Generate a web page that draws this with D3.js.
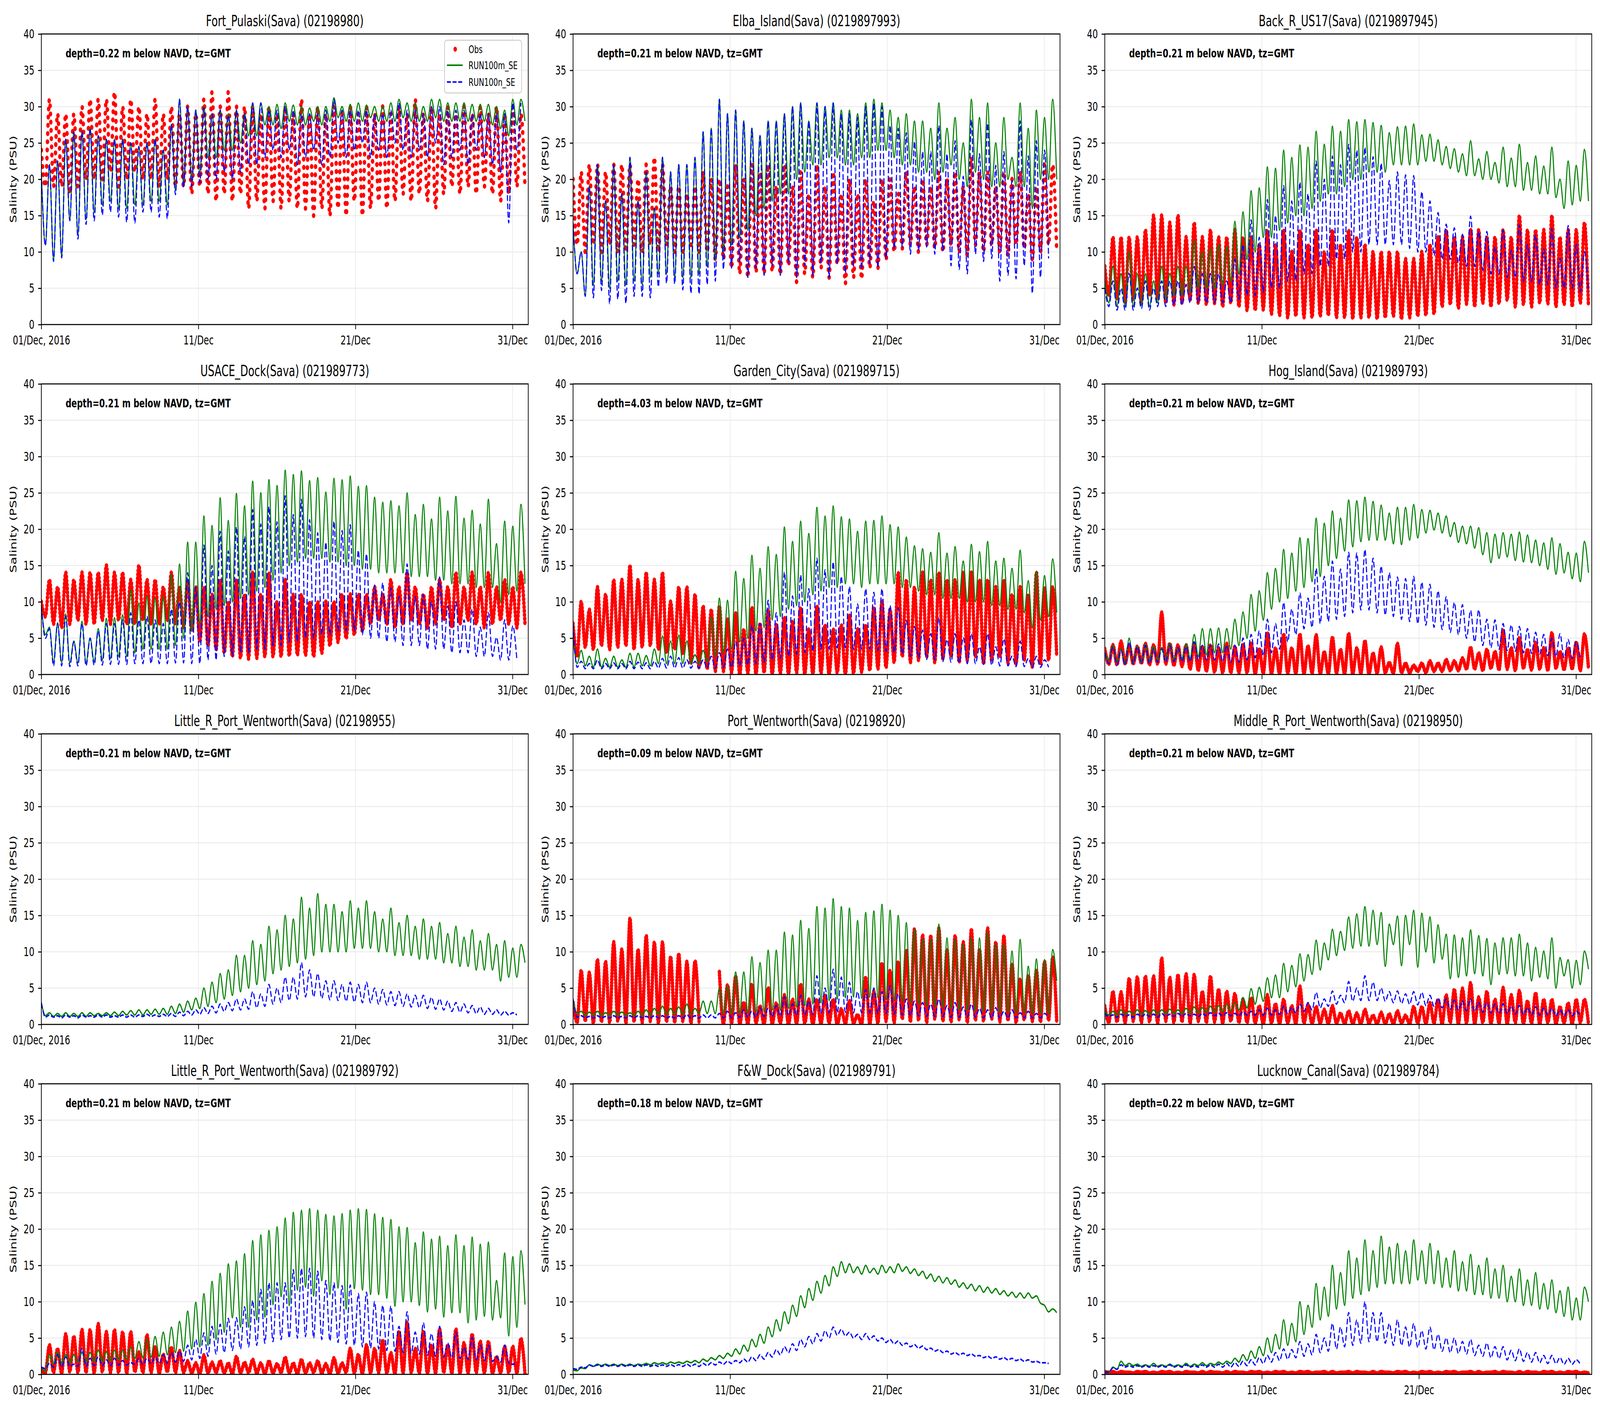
<!DOCTYPE html>
<html>
<head>
<meta charset="utf-8">
<script src="https://cdn.jsdelivr.net/npm/d3@7"></script>
<style>
  html, body { margin: 0; padding: 0; background: #fff; overflow: hidden; }
  svg { display: block; width: 100vw; height: 100vh; }
</style>
</head>
<body>
<svg id="fig"></svg>
<script>
// Salinity at the Savannah stations, Dec 2016.
// Every series holds the tidal highs and lows,
// alternating high, low, high, low ... one value every 6.21 h from 01 Dec 00:00 GMT.

const fortPulaskiObs = [24,19, 31,19, 29,19, 29,18, 29,19, 30,20, 31,20, 31,20, 31,21, 32,19,
  30,20, 31,21, 30,20, 29,20, 31,19, 29,20, 30,19, 29,19, 30,18, 29,19,
  31,18, 32,17, 30,18, 32,17, 30,18, 30,16, 30,17, 29,16, 30,17, 29,16,
  30,17, 29,16, 31,16, 29,15, 30,16, 29,15, 30,16, 29,15, 30,17, 29,15,
  30,16, 29,17, 30,16, 29,17, 30,18, 29,17, 31,18, 29,17, 30,16, 29,18,
  30,19, 29,18, 30,19, 29,18, 30,19, 29,18, 30,17, 29,18, 30,19, 29,19];
const fortPulaskiM = [21,11, 22,9, 22.5,9.5, 25.5,14.5, 26.5,12.5, 26.5,14.5, 27,15.5, 26,16.5, 25.5,17, 25.5,16,
  25.5,16, 25,16.5, 24.5,16.5, 25,17, 25.5,17, 24,16.5, 27.5,18.5, 31,19.5, 30,20, 29.5,21,
  30,23, 29,23, 29.5,24, 29,24, 29.5,25, 29,26, 30.5,26, 30.5,27.5, 30,27.5, 30.3,27,
  30.5,28, 30.2,27.5, 30,27.5, 29.8,28, 30,27.5, 30,28, 31.2,28.5, 30,28, 30.3,28, 30.5,28,
  30.2,28.5, 30,28, 30,28, 30.5,28, 31,28.5, 30.5,28, 30.5,28, 30,28, 31,28.5, 31,28,
  30.5,28, 30.5,28, 30.5,28, 30.3,28, 30.3,28, 30.3,27.5, 30,27, 29.5,26, 31,27.5, 31,28];
const fortPulaskiN = [21,10.9, 22,8.7, 22.5,9.2, 25.5,14.3, 26.5,11.8, 26.5,13.8, 27,14.3, 26,15.1, 25.5,15.5, 25.5,14.8,
  25.5,14.1, 25,14, 24.5,15.5, 25,15.5, 25.5,14.8, 24,14.6, 27.5,17.9, 31,18.8, 30,19, 29.5,19.5,
  29.8,20, 29,20, 29.5,21, 28.8,20, 29.5,21, 29,22, 30.5,22, 30.5,23, 29.5,24, 29.5,23,
  30,24, 29.5,22, 29,23, 29,24, 29,22, 29.5,23, 31,25, 29.5,23, 29.5,24, 29.5,25,
  29.5,23, 29,24, 29,23, 29.5,25, 30.5,24, 29.5,23, 29.5,24, 29,23, 30,25, 30,22,
  29.5,23, 29.5,24, 29.5,22, 29,24, 29,23, 29,22, 29,21, 29,14, 30.5,24, 30.5];

const elbaObs = [20,11, 21,10, 22,11, 22,10, 21,11, 22,10, 22,10, 22,11, 20,10, 22,11,
  23,10, 22,11, 19,10, 19,10, 18,11, 19,10, 21,10, 20,9, 20,9, 19,7.8,
  22,7, 20,6.5, 22,7.2, 21,7, 22,7.3, 19,6.9, 22,8.1, 19,5.9, 21,7, 18,6.5,
  22,7.8, 19,6.5, 21,8.3, 18,5.7, 20,6.5, 18,6.3, 20,7.8, 17,7.8, 20,8.9,
  20,10, 18,10.5, 21,11, 19,10, 20,11, 19,10.5, 21,10, 20,11, 21,10, 19,9.5,
  23,11, 21,10, 21,11, 19,10, 21,9.5, 20,11, 21,10.5, 18,9, 19,10, 22,11, 22,10];
const elbaM = [14,7, 10,4, 19,5.5, 22,6, 17,5, 22,6, 18,5.5, 23,6, 17,5.5, 21,6.5,
  16,7, 23,7, 21,6.5, 22,6.5, 22,6.5, 23,7, 26.5,8, 27,9, 31,10, 29,11,
  29.5,12, 28,13, 27,15, 26,16, 28,17, 28,18, 29,18, 30,20, 30.5,21, 28,22,
  30.5,22, 30,23, 30.5,23, 29.5,22, 29.5,22, 29,23, 30.5,23, 31,24, 30.5,24, 29.5,23,
  28.5,22, 29,22, 28,21, 28,21, 27,20, 30.5,21, 27,22, 28.5,20, 25,19, 31,21,
  28.5,20, 30.5,19, 25,19, 28.5,20, 23,19, 30.5,19, 27,16, 29.5,20, 28.5,20, 31,20];
const elbaN = [14,7, 10,3.9, 19,3.7, 22,4.7, 17,2.9, 22,3.5, 18,2.9, 23,3.9, 17,3.9, 21,3.7,
  16,5.2, 23,5.7, 21,5.6, 22,4.8, 22,4.3, 23,4.2, 26.5,5.5, 27,6, 31,7.6, 29,7.8,
  29.5,8.6, 28,6.5, 27,7.8, 26,6.8, 28,8.1, 28,6.8, 29,8.5, 30,6.5, 30.5,8.1, 28,6.8,
  30.5,8.5, 30,6.5, 30.5,8.4, 29,7.1, 29,8.1, 28.5,7.6, 30,8.4, 30.5,7.8, 30,9.1, 27.4,10.4,
  27,10.7, 26.4,9.7, 25.2,10.2, 23.8,10.7, 23.8,9.7, 27.4,10.2, 23.5,8.1, 25.3,7.6, 20.4,7, 28.2,9.7,
  23.5,8.7, 27.7,9.1, 21.9,6, 23.8,6.8, 19.8,6.3, 28,8.1, 23.2,4.3, 25.3,6.5, 24,9.1];

const backRObs = [8,4, 12,3.5, 12,3, 12,3.5, 12,3, 13,4, 15,3.5, 15,3, 14,2.8, 15,3,
  12,3.5, 14,3, 12,2.8, 13,3, 12,2.5, 12,3, 13,2.5, 12,2, 12,2,
  11,2.1, 13,1.5, 11,1.3, 13,1, 10,1.2, 13,1, 11,1, 13,1.2, 10,1.3, 13,1, 11,1,
  13,0.8, 12,1, 11,1, 10,0.8, 10,1, 10,1.2, 10,0.8, 9,1, 9,1.2, 10,1.3, 11,1.5,
  12,2.5, 13,2.8, 12,2.3, 12,2.9, 13,2.5, 13,3, 12,2.5, 12,2.9, 13,3.4, 12,2.5,
  15,2.8, 13,2.5, 13,3, 13,2.9, 15,2.5, 12,2.8, 13,2.5, 13,3, 14,2.5];
const backRM = [6,3, 8,2.5, 7,2.5, 10,2.5, 7,2.7, 7,2.5, 6,3, 8,3.5, 7,4, 8,4,
  8,4.5, 11.5,5, 10,5, 10.4,5, 11,5.5, 10.7,6,
  14.2,7, 15.5,9, 18.4,10, 18.8,12,
  21.7,12, 21.5,13, 24,14, 23,15, 24.7,15, 24.4,16,
  26.6,17, 24.8,18, 27.3,18, 26.6,19,
  28.2,20, 27.9,20, 28.2,21, 27.8,21, 27.4,21, 26.4,22, 27.2,22, 27.3,22, 27.6,22,
  26.1,22.5, 26.2,22.5, 25.4,22, 24.5,21.5, 24.2,21, 23.5,20.5, 25.3,20.5,
  22.8,20, 23.8,20, 22.3,19.5, 24.4,19, 22.9,19, 24.8,18.5, 22.3,18.5,
  23.2,18, 21.8,18, 24.4,17.5, 20,16, 22.5,16.5, 21.9,17, 24.1,17];
const backRN = [5,2.5, 6,2, 5,2, 7,2, 5,2.2, 6,2, 5,2.5, 6,2.5, 6,2.7, 6,2.7,
  5.5,3, 8,3, 7,3, 7,3, 7,3, 6,3,
  9,3.5, 11,4, 14.4,4, 12,4.5,
  17.2,5, 15,5, 19.1,6, 17,6, 19.6,7, 18,7,
  22.5,8, 20,8, 23.2,9, 22,9, 24.8,10, 24,10, 24.4,11, 23.1,11,
  22.2,11, 19.8,11, 21,11, 20.6,10.5, 20.5,10, 18.3,10, 17,9.5,
  15.4,9, 13.8,9, 13.3,8.5, 12.4,8, 14.9,8, 12.8,7.5, 12.8,7, 10.7,7,
  13,6.5, 10.2,6.5, 13.7,6, 11,6, 12.3,5.5, 10.4,5.5, 13.2,5, 9.1,5, 13.6,5, 11,4.5, 10,4.5];

const usaceObs = [10,8, 13,7, 12,6.5, 14,7, 13,7.5, 14,7, 14,7, 14,7.5, 15,7, 14,7.5,
  14,7, 13,7, 15,7.5, 13,7, 13,7, 12,7.5, 14,7, 12,6.5, 13,6,
  12,4.6, 12,4, 11,3.5, 13,3, 10,2.5, 13,2.3, 11,2.2, 14,2.3, 11,2.5, 14,2.5, 10,2.5,
  13,2.6, 11,2.7, 11,2.7, 10,2.5, 10,3, 10,4, 10,4.5, 11,5, 11,5.5, 11,6,
  11,7, 12,7.5, 11,7, 13,6.5, 12,7, 14,7.5, 12,7, 11,6.5, 12,7, 13,7.5,
  12,6.5, 14,7, 12,7.5, 14,7, 12,6.5, 14,7, 12,7.5, 13,7, 12,6.5, 14,7];
const usaceM = [9.5,5.5, 6.5,1.7, 7.1,1.7, 8.3,1.6, 4.6,1.6, 7.3,1.6, 5,1.8, 6.3,2, 7.7,2.2, 7.8,2.5,
  8.2,2.5, 11.6,3, 9.8,3.5, 10.7,3.5, 10.5,3.5, 10.7,3.5, 13.8,4, 15.2,5, 18.2,6, 18.2,7,
  21.8,8, 20.5,9, 24.3,9.5, 21.2,10, 24.9,10.5, 23.2,11, 26.6,11.5, 25,12, 26.8,13, 26,14,
  28.1,15, 27.5,15.5, 28,16, 26.7,16, 27.1,16, 25.1,15.5, 27,15.5, 26.8,15, 27.3,15,
  25.9,14.5, 26,14.5, 24.4,14, 23.7,14, 23.9,14, 23.2,14, 25,13.5, 22,13.5, 23.4,13.5, 21.4,13, 24.4,13,
  22.5,12.5, 24.5,12.5, 21.5,12.5, 22.6,12, 20.7,12, 24.1,12, 18,10, 21.1,11, 20.4,11.5, 23.4,12.5];
const usaceN = [9.5,5, 6.3,1.2, 7,1.2, 8,1.1, 4.5,1.2, 7,1.2, 5,1.3, 6,1.3, 7,1.4, 7,1.4,
  7.5,1.4, 8.5,1.5, 7.5,1.5, 8,1.5, 7.5,1.5, 7,1.5, 9,1.6, 10,1.6,
  14,1.5, 12,1.5, 17.8,2, 15,2, 19.7,2.5, 17,2.5, 20.3,3, 19,3, 22.7,3.5, 20.7,3.5, 23.1,4, 21,4,
  24.6,4.5, 22,4.5, 24.1,5, 21.3,5, 19.5,5.5, 18.2,5.5, 21.1,6, 19.8,6, 20.6,6, 17.1,5.5, 16.6,5,
  12.3,5, 12.6,4.5, 11.9,4.5, 10.7,4, 15.2,4, 10.7,4, 11,3.5, 10,3.5, 13.4,3.5,
  9.4,3, 10,3, 7.5,3, 9,2.5, 6.5,2.5, 8.5,2.5, 5.1,2, 7.5,2, 6.7,2];

const gardenObs = [7,2.5, 10,3.8, 8.9,3.5, 12,4, 11,3.5, 13,3.8, 13,4, 15,3.5, 13,3.8, 14,4,
  13,3.5, 14,3, 10,3.5, 12,3, 12,1.5, 11,1, 9.4,0.8, 8.9,0.5, 9.4,0.5,
  7.6,0.3, 8.4,0, 6.2,0.2, 9.2,0, 7,0.3, 8.9,0, 6.8,0.2, 7.8,0, 7.3,0.3, 9.2,0.1,
  6.2,0, 9.4,0.2, 6.8,0, 6.2,0.3, 6.8,0, 8.1,0.2, 6.2,0.4, 6.8,0.6, 9.2,0.8, 10,1,
  8.9,1.7, 14,2.5, 13,1.7, 12,2, 14,2.5, 13,1.7, 14,2.2, 13,2.5, 13,1.7, 14,2, 14,2.5,
  13,1.5, 13,2, 12,2.5, 13,1.7, 11,1.5, 12,2, 11,1.1, 14,1.5, 12,2, 12,2.5];
const gardenM = [5,1.5, 3.3,1.2, 2.5,1, 3.5,1, 2.2,1, 2.5,1, 2,1, 2.9,1, 2.9,1.2, 2.6,1.2,
  3.5,1.5, 5.3,1.5, 4.6,1.5, 5.4,1.5, 4.6,1.5, 2.7,1.5, 3.3,1.8, 7.8,2.5, 10.5,3, 10.2,3.5,
  14.2,4.5, 13.2,5, 16.4,6, 14.6,6.5, 17.6,7.5, 16.5,8, 20.3,9, 18.3,9.5, 21.1,10, 19.4,11,
  23,11.5, 21.8,12, 23.2,12, 21.7,12.5, 21.4,12.5, 19.7,12, 21.1,12.5, 21.2,12.5, 21.8,12.5,
  20.6,12.5, 20.3,12, 18.9,12, 17.7,11.5, 17.3,11, 16.8,11, 19.5,10.5, 16.7,10.5, 17.6,10.5,
  15.6,10, 17.9,10, 16.9,10, 18.3,9.5, 15.6,9.5, 16,9, 14.6,9, 17.1,8.5, 12.9,6.5, 14.2,7.5, 13.6,8, 15.9,8.5];
const gardenN = [7,1, 1.8,0.8, 1.5,0.8, 2,0.8, 1.5,0.8, 1.6,0.8, 1.5,0.8, 1.8,0.8, 1.7,0.8, 1.6,0.8,
  1.8,0.9, 2.2,0.9, 2.5,0.9, 2.3,0.9, 2,0.9, 1.8,0.9, 2,0.9, 2.5,0.9,
  3,1, 3.5,1, 4.5,1.2, 5,1.3, 6.8,1.5, 7,1.7, 10.2,2, 8.5,2.2, 14.1,2.5, 10.8,2.8,
  13.7,3, 11.8,3.2, 16,3.5, 14.4,3.5, 15.5,3.7, 13.5,3.7, 12.1,3.5, 9.7,3.5, 11.8,3.5, 11.3,3.3,
  11.8,3.2, 9.5,3, 9.2,2.8, 7.4,2.5, 6.6,2.3, 6.1,2.1, 5.6,2, 7.8,1.8, 4.8,1.7, 5.6,1.6,
  5.1,1.5, 5.6,1.5, 3.8,1.4, 5.6,1.3, 3.8,1.2, 4.9,1.2, 2.5,1.1, 4.6,1.1, 2.2,1, 2.5,1, 2,1];

const hogObs = [3.5,1.5, 4,1.4, 4.5,1.5, 4,1.5, 3.8,1.6, 4.2,1.4, 4,1.5, 8.5,1.5, 4.2,1.3, 4,1.2,
  4,0.8, 4.3,0.6, 3.8,0.5, 4,0.4, 3.6,0.3, 4.2,0.3, 3.8,0.3, 4,0.3,
  4.2,0.1, 3.5,0.2, 5.7,0.1, 3.6,0.1, 5.5,0.2, 3.6,0.1, 5.5,0.1, 3.9,0.2, 5.4,0.1, 3.1,0.1,
  5.1,0.2, 3.4,0.1, 5.6,0.1, 3.6,0.2, 4.6,0.1, 2.9,0.2, 3.7,0.3, 1.6,0.2, 4.2,0.3,
  1.5,0.3, 1.2,0.5, 1.5,0.3, 1.8,0.5, 1.5,0.5, 2,0.6, 1.8,0.6, 2.2,0.8,
  3.7,0.8, 2.9,0.6, 3.4,0.9, 3.1,0.7, 6,0.8, 3.6,0.6, 5,0.9, 3.4,0.7, 4.4,0.8, 3.6,0.6,
  5.7,0.9, 3.1,0.7, 3.6,0.8, 4.4,0.6, 5.5,0.9];
const hogM = [3,2, 4,1.8, 3.5,1.6, 5,1.6, 3.9,1.8, 4.2,1.8, 3.9,2, 3.7,2, 4.3,2, 3.7,2.2,
  4.2,2.2, 5.5,2.5, 6.3,2.7, 6.3,3, 6.4,3, 6.3,3.5, 7.6,4, 8.6,5, 11,6, 11.5,7.5,
  14,9, 14.6,10, 17.2,10.5, 16.7,11.5, 18.8,12, 18.7,12.8, 21.5,13.5, 20.8,15, 22.5,16, 21.5,17,
  24,17.6, 23.9,18.3, 24.4,18.5, 23.8,18.5, 23.3,18.5, 22.2,18, 23,17.9, 23,18.5, 23.4,18.8,
  22.7,19.5, 22.6,19.9, 22.2,19.5, 21.8,19, 20.9,18.2, 20.4,18, 20.4,17.4, 20.2,16.5, 19.5,15.4,
  19.3,16, 19.5,16.2, 19.3,15.7, 19.6,15.5, 19.2,15.4, 18.5,15, 18.1,14.5, 18.8,13.8, 18,14, 16.8,13.2, 16.7,12.8, 18.3,14];
const hogN = [3,1.5, 3.8,1.3, 3.3,1.3, 4.5,1.5, 3.8,1.5, 4,1.5, 3.5,1.7, 3.5,1.7, 4,1.8, 3.7,1.8,
  3.8,1.8, 4.5,2, 4,2, 4,2, 4.2,1.8, 4,1.7, 4,1.7,
  5,2, 5.5,2.3, 6,2.6, 7.6,3, 7,3.5, 9.9,4.5, 9,5.5, 11.2,6.3, 10.5,6.5, 14.6,7,
  13.5,7.3, 15.6,7.6, 14.5,8, 16.8,8.5, 16.7,8.9, 17.2,8.9, 16,8.5, 14.9,8.2, 14,8, 13.4,7.6,
  13.2,7.3, 13.5,7, 12.7,6.8, 12.4,6.5, 11.5,6.2, 10.7,5.8, 9.9,5.5, 9.6,5, 8.8,4.5, 8.9,4,
  7.6,3.7, 7.5,3.5, 7,3.3, 6.8,3.2, 6.6,3, 6.3,2.9, 5.8,2.8, 5.5,2.6, 5,2.5, 5.6,2.3, 4.8,2.2, 4.5,2.1];

const littleR55M = [3,1.2, 1.6,1.1, 1.5,1.1, 1.6,1.1, 1.5,1.1, 1.6,1.1, 1.6,1.2, 1.5,1.2, 1.6,1.2, 1.7,1.2,
  1.8,1.3, 1.9,1.3, 2,1.3, 2,1.4, 2.1,1.4, 2.2,1.4,
  2.5,1.5, 2.8,1.7, 3.2,2, 3.6,2.2,
  5,2.5, 5.8,3, 7,3.5, 7.5,4,
  9.5,4.5, 9.5,5, 11.5,5.5, 11,6,
  13.5,7, 13,7.5, 15,8, 14.5,8.5,
  17.5,9, 16,9.5, 18,10, 16.5,10,
  16.5,10, 15.5,10, 17,10.5, 16,10.5, 17,10.5,
  15.5,10, 14.5,10, 16,9.5, 14,9.5, 15,9.5, 13.5,9, 14.5,9, 13.5,9,
  14,8.5, 12.5,8.5, 13.5,8, 12,8, 13,7.5, 11.5,7.5, 12.5,7.5,
  11,6, 11.5,6.5, 10.5,6.5, 11,8.5];
const littleR55N = [3,1, 1.3,1, 1.2,0.9, 1.3,1, 1.2,0.9, 1.3,1, 1.2,1, 1.3,1, 1.3,1, 1.2,1,
  1.3,1, 1.3,1, 1.3,1.1, 1.4,1.1, 1.3,1.1, 1.4,1.1,
  1.5,1.1, 1.7,1.2, 1.8,1.3, 2,1.4, 2.3,1.5, 2.5,1.6,
  2.8,1.8, 3,1.9, 3.5,2, 3.5,2.1, 4.5,2.3, 4.2,2.5,
  5.5,2.8, 5,3, 6.5,3.3, 6.5,3.5, 8.5,3.8, 7.5,3.8,
  7,3.6, 6,3.4, 6,3.3, 5.5,3.2, 5.8,3.1, 5.5,3, 5.8,3,
  5,2.8, 4.8,2.7, 4.5,2.6, 4.5,2.5, 4.2,2.4, 4,2.3, 4,2.2, 3.7,2.1,
  3.5,2, 3.2,1.8, 3,1.7, 2.8,1.6, 2.6,1.5, 2.4,1.4, 2.2,1.4, 2,1.3, 1.8,1.3, 1.6,1.3];

const portWentObs = [3,0.3, 7.4,0.5, 7.1,0.2, 8.9,0.4, 8.6,0.3, 11.3,0.5, 10.3,0.2, 14.6,0.4, 10.3,0.3, 12.2,0.5,
  11.3,0.2, 11.3,0.4, 9.3,0.3, 9.7,0.5, 8.6,0.2, 8.7,0.3,
  null,null, null,null,
  7.2,0.1, 5.4,0.2, 6.6,0, 3,0.1, 5.5,0.2, 2.5,0, 5,0.1, 2.9,0.2, 4,0, 3.4,0.1,
  5.5,0.2, 3.4,0, 3.4,0.1, 4,0.2, 3.4,0, 2.1,0.1, 3.2,0.2, 1.3,0, 6.5,0.1, 4.5,0.2,
  8.4,0.5, 7.4,0.3, 8.6,0.8, 10.2,0.4, 13.1,0.6, 12.3,0.3, 12.2,0.8, 13.2,0.5, 10.3,0.4, 12.2,0.7, 11.3,0.3,
  13.1,0.6, 10.3,0.5, 13.2,0.8, 11.3,0.4, 12.2,0.6, 8.3,0.3, 6.2,0.7, 6.7,0.5, 7.4,0.4, 8.6,0.6, 9.2,0.5];
const portWentM = [3.5,1.5, 1.8,1.3, 1.7,1.3, 1.8,1.3, 1.6,1.3, 1.8,1.3, 1.7,1.3, 1.6,1.3, 1.8,1.3, 2,1.3,
  2.2,1.4, 2.5,1.4, 2.2,1.4, 2.4,1.4, 2.8,1.4, 2.2,1.5,
  3.2,1.5, 3.2,1.5, 5,1.5, 5.3,1.5, 7.2,1.6, 7.2,1.6, 9.3,1.7, 8.5,1.8, 10.2,2, 10.2,2,
  12.7,2.2, 12.3,2.4, 14.3,2.6, 13.2,2.8, 16.2,3, 16,3.3, 17.3,3.5, 16.2,3.7, 16,3.8, 14.3,3.6,
  15.4,3.8, 15.6,3.7, 16.5,3.5, 15.7,3.4, 15,3.2, 14,3, 13.1,2.8, 11.8,2.6, 11.7,2.5, 13.8,2.4,
  11.9,2.2, 11.7,2.1, 11,2, 11.9,1.9, 11.9,1.8, 12.8,1.8, 11,1.7, 11,1.7, 10.1,1.6, 11.7,1.6,
  8,1.5, 9,1.5, 8.9,1.5, 10.3,6];
const portWentN = [3.5,1, 1.2,0.9, 1.1,0.9, 1.2,0.9, 1.1,0.9, 1.2,0.9, 1.1,0.9, 1.2,0.9, 1.2,0.9, 1.1,0.9,
  1.2,0.9, 1.2,0.9, 1.1,0.9, 1.2,0.9, 1.3,0.9, 1.2,0.9, 1.3,0.9, 1.3,0.9,
  1.5,0.9, 1.8,0.9, 1.6,1, 2,1, 1.8,1, 2.3,1.1, 2.2,1.1, 2.6,1.2,
  3.8,1.2, 2.8,1.3, 4,1.3, 3.2,1.4,
  6.7,1.5, 5,1.6, 7.6,1.6, 6.5,1.7, 5.8,1.6,
  4.5,1.6, 4.8,1.6, 5,1.5, 4.5,1.5, 5.3,1.4, 4.2,1.3,
  3.5,1.2, 3.2,1.2, 3,1.1, 2.8,1.1, 3.5,1.1, 2.6,1, 3,1, 2.4,1, 2.8,1,
  2.2,0.9, 2,0.9, 2.3,0.9, 1.8,0.9, 2,0.9, 1.6,0.9, 1.8,0.9, 1.5,0.9, 1.5,0.9];

const middleRObs = [2.5,0.3, 4.5,0.4, 4.4,0.2, 6.3,0.5, 6.5,0.3, 6.6,0.4, 6.6,0.2, 9.1,0.5, 6.4,0.3, 6.8,0.4,
  6.9,0.2, 6.8,0.5, 4.5,0.3, 6.6,0.4, 4.8,0.2, 4.5,0.5, 4.2,0.3, 3.4,0.3,
  3.6,0.2, 2.5,0.1, 4,0.2, 2.8,0.1, 3.4,0.2, 2.5,0.1, 5.2,0.2, 2.6,0.1, 2.4,0.2, 2,0.1, 2.5,0.2,
  1.5,0.1, 1.8,0.1, 1.5,0.1, 2,0.2, 1.2,0.1, 1.6,0.1, 1.4,0.1, 1.8,0.2, 1.2,0.1,
  2.4,0.2, 2.4,0.1, 2.9,0.2, 3.4,0.1, 4,0.3, 4.8,0.1, 4.9,0.2, 5.7,0.1, 3.7,0.3, 4.5,0.1, 3.4,0.2,
  5,0.1, 4,0.3, 4.6,0.1, 3.2,0.2, 4.3,0.1, 3.4,0.3, 3.4,0.1, 2.4,0.2, 2.9,0.1, 3.4,0.3, 3.4,0.1];
const middleRM = [1.8,1.3, 1.8,1.3, 2,1.4, 1.8,1.4, 2,1.4, 1.9,1.4, 2,1.4, 2,1.5, 2.1,1.5, 2,1.5,
  2.2,1.6, 2.4,1.6, 2.3,1.7, 2.5,1.7, 2.6,1.8, 2.8,1.9, 3,2,
  3.7,2.3, 4.9,2.8, 5.1,3.2, 6.4,3.7, 6.8,3.7, 8.4,4.5, 8.1,5.2, 9.7,6, 9.6,6.9, 11.6,7.5,
  11.2,8.9, 13.1,9.5, 12.8,10.2, 14.8,10.5, 15.2,10.8, 16.2,10.8, 15.7,11, 15.4,8, 13.8,11, 14.9,8.1,
  15,11, 15.7,7.9, 15.3,10, 14.8,8.5, 13.7,9, 12.4,6.3, 12.3,6.5, 11.9,6.7, 13,7, 12.2,6.7,
  11.8,5.5, 11.2,6.9, 11.9,7, 11.9,6.7, 12.4,6.7, 11.2,6, 10.6,6.5, 10.1,6.3, 11.9,5, 9.2,6.7,
  8.9,5, 8.8,5.5, 10.1,7.6];
const middleRN = [1.5,1.1, 1.3,1, 1.4,1.1, 1.3,1, 1.4,1.1, 1.4,1.1, 1.4,1, 1.5,1.1, 1.4,1.1, 1.5,1.1,
  1.5,1.2, 1.4,1.1, 1.5,1.2, 1.6,1.2, 1.5,1.2, 1.6,1.2, 1.5,1.2, 1.7,1.3, 1.8,1.3, 2,1.3,
  2.2,1.3, 2,1.4, 2.5,1.5, 2.3,1.6, 2.8,1.8, 3,2, 4.4,2.3, 3.5,2.5, 4.6,2.8, 4,3,
  5.9,3.2, 5,3.3, 6.7,3.3, 5.8,3.3, 5,3.2, 4.5,3, 4.6,2.9, 4.2,2.8, 4.5,2.7, 4.4,2.6,
  4,2.5, 3.6,2.3, 3.5,2.1, 3.3,2, 3.2,1.9, 3.5,1.8, 3,1.7, 3,1.6, 2.8,1.5, 2.8,1.5,
  2.5,1.4, 2.6,1.4, 2.3,1.3, 2.4,1.3, 2.2,1.3, 2.2,1.2, 2,1.2, 2,1.2, 1.8,1.2];

const littleR92Obs = [0.5,0.3, 4,0.3, 3.5,0.2, 5.5,0.4, 5.2,0.3, 6.1,0.3, 6.1,0.2, 6.9,0.4, 5.8,0.3, 6.1,0.3,
  5.8,0.2, 5.8,0.4, 3,0.3, 5.4,0.3, 3.7,0.2, 2.7,0.4, 3.7,0.3, 3.2,0.3,
  1.8,0.2, 1.5,0.1, 2.6,0.2, 1.6,0.3, 1.8,0.2, 1.5,0.1, 2.4,0.2, 1.6,0.3, 2,0.2, 1.5,0.1,
  1.8,0.2, 1.4,0.3, 2.3,0.2, 1.5,0.1, 2,0.2, 1.5,0.3, 1.8,0.2, 1.4,0.1, 2.2,0.2, 1.5,0.3,
  3.5,0.2, 2.7,0.1, 4,0.2, 3.5,0.3, 4.7,0.2, 2.9,0.1, 5.9,0.2, 7.1,0.3, 3.5,0.2, 5.9,0.1, 4,0.2,
  6.2,0.3, 4,0.2, 6.2,0.1, 4.3,0.2, 5.5,0.3, 4.5,0.2, 4.5,0.1, 2.4,0.2, 3.8,0.3, 3.8,0.2, 4.9,0.1];
const littleR92M = [1,0.5, 2.7,1.5, 3,1.6, 2.7,1.6, 2.7,1.7, 3,1.7, 3,1.8, 3.3,1.8, 3.1,1.9, 3.3,2,
  3.3,2.1, 3.7,2.2, 4.5,2.3, 4.8,2.4, 5.2,2.5, 5.8,2.7, 6.5,3, 7.3,3.2, 8.7,3.5, 9.9,3.8,
  11.1,4, 12.8,4.8, 13.9,5.8, 15.2,7.8, 15.6,6.5, 16.6,6.5, 18.4,7.5, 19.2,7.9, 19.8,9.6, 20.3,10.7,
  21.5,9.5, 22.3,11.6, 22.6,12, 22.8,10.8, 22.6,12.9, 22,11, 21.8,11.9, 22.1,9, 22.6,11.8, 22.8,11.6,
  22.7,11, 22.1,11, 21.6,10.5, 21.3,9.4, 20.3,10, 20.2,10, 18.1,9.5, 19.6,8.6, 18.6,9, 19,7.9,
  17.7,8.5, 19.2,8.5, 17.7,7.1, 18.9,7.5, 17.9,8, 18.2,7.5, 12.9,7.8, 16.7,5.3, 16.2,6.5, 17,9.6];
const littleR92N = [1,0.8, 1.5,1, 2.7,1, 2.4,1.1, 1.4,1.1, 3.6,1.1, 2.2,1.2, 2.4,1.2, 2,1.2, 2.2,1.3,
  1.9,1.3, 1.6,1.4, 2.2,1.4, 2.2,1.5, 2.4,1.5, 2.7,1.6, 3,1.7, 3.2,1.8, 4,2, 4.8,2.2,
  5.7,2.5, 6.6,2.8, 6.9,3, 7.7,3.3, 7.8,3.5, 9.3,3.8, 10.2,4, 11.7,4.3, 12.6,4.5, 12.6,4.8,
  12.6,5, 14.4,5, 14.6,5.2, 14.6,5, 14.2,4.8, 12.9,4.6, 12.6,4.4, 12.2,4.2, 12.3,4, 11.1,3.8,
  11.3,3.6, 10,3.5, 9.5,3.3, 9.4,3.2, 6.6,3, 8.6,2.9, 5.8,2.8, 7.1,2.6, 5.6,2.5, 6.6,2.4,
  4.3,2.3, 5.8,2.2, 3.7,2.1, 5.1,2, 4,1.9, 4,1.8, 2.4,1.7, 4,1.6, 1.4,1.5];

const fwDockM = [0.6,0.5, 0.9,0.8, 1.3,1.1, 1.4,1.2, 1.4,1.2, 1.4,1.2, 1.4,1.2, 1.4,1.2, 1.4,1.3, 1.5,1.3,
  1.6,1.4, 1.6,1.4, 1.7,1.5, 1.7,1.5, 1.8,1.6, 1.9,1.6, 2.1,1.8, 2.3,2, 2.6,2.2, 2.9,2.5,
  3.5,2.8, 4,3.2, 4.8,3.8, 5.5,4.3, 6.5,5.2, 7.5,6, 8.6,7, 9.5,8, 10.8,9.2, 11.8,10.2,
  12.8,11.2, 13.6,12.2, 14.8,13.5, 15.5,14, 15.2,14, 14.8,13.8, 15,14, 14.6,13.8, 15,14, 14.8,14,
  15.2,14.2, 14.8,13.9, 14.5,13.6, 14.2,13.2, 13.8,12.8, 13.5,12.6, 13.3,12.4, 13,12, 12.6,11.8, 12.4,11.5,
  12.2,11.3, 12,11.2, 11.8,11, 11.5,10.8, 11.3,10.6, 11.2,10.5, 11.2,10.5, 10.8,9.8, 9.5,8.6, 9,8.5];
const fwDockN = [0.8,0.7, 1,0.9, 1.3,1.1, 1.3,1.1, 1.3,1.1, 1.3,1.1, 1.3,1.1, 1.3,1.1, 1.3,1.1, 1.3,1.1,
  1.3,1.1, 1.3,1.1, 1.35,1.1, 1.35,1.1, 1.4,1.1, 1.4,1.1, 1.5,1.2, 1.6,1.3, 1.7,1.4, 1.8,1.5,
  1.9,1.6, 2.1,1.7, 2.4,1.9, 2.7,2.1, 3,2.4, 3.4,2.7, 3.8,3, 4.2,3.3, 4.8,3.8, 5.2,4.2,
  5.6,4.6, 6,5, 6.5,5.4, 6.2,5.3, 5.8,5, 5.5,4.8, 5.6,4.8, 5.3,4.6, 5,4.4, 4.8,4.2,
  4.6,4, 4.3,3.8, 4.1,3.6, 3.9,3.4, 3.6,3.2, 3.4,3, 3.2,2.8, 3,2.7, 2.9,2.6, 2.8,2.5,
  2.6,2.3, 2.5,2.2, 2.4,2.1, 2.3,2, 2.2,1.9, 2.1,1.8, 2,1.7, 1.8,1.6, 1.6,1.5];

const lucknowObs = [0.3,0.2, 0.3,0.1, 0.3,0.2, 0.2,0.1, 0.3,0.2, 0.3,0.1, 0.2,0.1, 0.3,0.2, 0.3,0.1, 0.2,0.1,
  0.3,0.2, 0.2,0.1, 0.3,0.1, 0.3,0.2, 0.2,0.1, 0.3,0.1, 0.3,0.2, 0.2,0.1, 0.3,0.2, 0.3,0.1,
  0.2,0.1, 0.3,0.2, 0.3,0.1, 0.2,0.1, 0.3,0.2, 0.3,0.1, 0.2,0.2, 0.3,0.1, 0.3,0.1, 0.2,0.2,
  0.3,0.1, 0.3,0.2, 0.2,0.1, 0.3,0.1, 0.3,0.2, 0.2,0.1, 0.3,0.2, 0.3,0.1, 0.2,0.1, 0.3,0.2,
  0.3,0.1, 0.2,0.1, 0.3,0.2, 0.3,0.1, 0.2,0.2, 0.3,0.1, 0.3,0.1, 0.2,0.2, 0.3,0.1, 0.3,0.2,
  0.2,0.1, 0.3,0.1, 0.3,0.2, 0.2,0.1, 0.3,0.2, 0.3,0.1, 0.2,0.1, 0.3,0.2, 0.3,0.1, 0.2,0.1];
const lucknowM = [0.3,0.3, 1,0.7, 1.8,1.2, 1.5,1.2, 1.4,1.1, 1.3,1.1, 1.5,1.1, 1.3,1.1, 1.4,1.1, 1.3,1.1,
  1.5,1.1, 1.4,1.2, 1.6,1.2, 1.5,1.3, 1.7,1.4, 1.8,1.5, 2.2,1.7, 2.7,1.9, 3.2,2.2, 3.8,2.6,
  5,3, 5.5,3.5, 7.5,4, 7,4.5, 10,5.5, 9.5,6.5, 12.5,7.5, 12,8, 15,9, 14,9.5,
  17,10.5, 16,11, 18.5,11.5, 17,12, 19,12.5, 17.5,12.5, 18,12.5, 17,12.5, 18.5,13, 17,12.5,
  18,12.5, 17,12, 16,12, 17,11.5, 15.5,11.5, 16.5,11, 15,11, 16,10.5, 14.5,10.5, 15,10,
  13.5,10, 14.5,9.5, 13,9.5, 14,9, 12.5,9, 13,8.5, 11.5,8, 12,7.5, 10.5,7.5, 12,10];
const lucknowN = [0.3,0.3, 0.9,0.7, 1.3,1, 1.2,1, 1.2,1, 1.2,1, 1.2,1, 1.2,1, 1.3,1, 1.2,1,
  1.3,1, 1.2,1, 1.3,1, 1.3,1, 1.4,1, 1.5,1,
  1.6,1.1, 1.8,1.2, 2,1.3, 2.3,1.5, 2.6,1.7, 3,1.9,
  3.5,2.1, 3.4,2.3, 4.5,2.5, 4.2,2.7, 5.5,3, 5,3.2,
  7,3.5, 6.5,3.8, 8.5,4, 7.5,4.3, 10,4.5, 8.5,4.5,
  8.5,4.3, 7,4, 7.5,4, 6.5,3.8, 7,3.7, 6,3.5, 6.5,3.4,
  5.5,3.2, 5,3, 5,2.9, 4.5,2.8, 4.8,2.6, 4,2.5, 4.3,2.3, 3.8,2.2,
  3.8,2, 3.3,1.9, 3.5,1.8, 3,1.7, 3,1.6, 2.6,1.5, 2.6,1.5, 2.3,1.4, 2.2,1.4, 2,1.4];

const stations = [
  { title: "Fort_Pulaski(Sava) (02198980)", depth: "0.22", obs: fortPulaskiObs, m: fortPulaskiM, n: fortPulaskiN },
  { title: "Elba_Island(Sava) (0219897993)", depth: "0.21", obs: elbaObs, m: elbaM, n: elbaN },
  { title: "Back_R_US17(Sava) (0219897945)", depth: "0.21", obs: backRObs, m: backRM, n: backRN },
  { title: "USACE_Dock(Sava) (021989773)", depth: "0.21", obs: usaceObs, m: usaceM, n: usaceN },
  { title: "Garden_City(Sava) (021989715)", depth: "4.03", obs: gardenObs, m: gardenM, n: gardenN },
  { title: "Hog_Island(Sava) (021989793)", depth: "0.21", obs: hogObs, m: hogM, n: hogN },
  { title: "Little_R_Port_Wentworth(Sava) (02198955)", depth: "0.21", obs: null, m: littleR55M, n: littleR55N },
  { title: "Port_Wentworth(Sava) (02198920)", depth: "0.09", obs: portWentObs, m: portWentM, n: portWentN },
  { title: "Middle_R_Port_Wentworth(Sava) (02198950)", depth: "0.21", obs: middleRObs, m: middleRM, n: middleRN },
  { title: "Little_R_Port_Wentworth(Sava) (021989792)", depth: "0.21", obs: littleR92Obs, m: littleR92M, n: littleR92N },
  { title: "F&W_Dock(Sava) (021989791)", depth: "0.18", obs: null, m: fwDockM, n: fwDockN },
  { title: "Lucknow_Canal(Sava) (021989784)", depth: "0.22", obs: lucknowObs, m: lucknowM, n: lucknowN }
];

const yTicks = [0, 5, 10, 15, 20, 25, 30, 35, 40];
const xTickDates = ["2016-12-01", "2016-12-11", "2016-12-21", "2016-12-31"];
const xTickLabels = ["01/Dec, 2016", "11/Dec", "21/Dec", "31/Dec"];
const legendLabels = ["Obs", "RUN100m_SE", "RUN100n_SE"];

// spacing of the obs dots along each panel's trace (style only)
const obsDotGap = [21, 20, 10, 10, 9, 7, 0, 8, 8, 8, 0, 6];

const FONT = "DejaVu Sans";
const FIG_W = 6000, FIG_H = 3600;
const colLeft = [155, 2149, 4143];
const rowTop = [87, 983, 1879, 2775];
const PW = 1826, PH = 744;

const t0 = Date.UTC(2016, 11, 1);
const stepMs = 6.21 * 3600 * 1000;
const toPoints = vals => vals.map((v, k) => ({ t: new Date(t0 + k * stepMs), v: v }));

const x = d3.scaleUtc()
  .domain([new Date(t0), new Date(Date.UTC(2017, 0, 1))])
  .range([0, PW]);
const y = d3.scaleLinear().domain([0, 40]).range([PH, 0]);

const line = d3.line()
  .defined(d => d.v != null)
  .x(d => x(d.t))
  .y(d => y(d.v))
  .curve(d3.curveMonotoneX);

const xTicks = xTickDates.map(s => new Date(s + "T00:00:00Z"));

// the figure is laid out in a 6000 x 3600 box and stretched over the whole window
const svg = d3.select("#fig")
  .attr("viewBox", `0 0 ${FIG_W} ${FIG_H}`)
  .attr("preserveAspectRatio", "none");
svg.append("rect").attr("width", FIG_W).attr("height", FIG_H).attr("fill", "white");
svg.append("defs").append("clipPath").attr("id", "plot-area")
  .append("rect").attr("width", PW).attr("height", PH);

stations.forEach((st, i) => {
  const g = svg.append("g")
    .attr("transform", `translate(${colLeft[i % 3]},${rowTop[Math.floor(i / 3)]})`);

  // grid
  g.append("g").selectAll("line").data(yTicks).join("line")
    .attr("x1", 0).attr("x2", PW)
    .attr("y1", d => y(d)).attr("y2", d => y(d))
    .attr("stroke", "#ebebeb").attr("stroke-width", 2.7);
  g.append("g").selectAll("line").data(xTicks).join("line")
    .attr("x1", d => x(d)).attr("x2", d => x(d))
    .attr("y1", 0).attr("y2", PH)
    .attr("stroke", "#ebebeb").attr("stroke-width", 2.7);

  const plot = g.append("g").attr("clip-path", "url(#plot-area)");

  if (st.obs) {
    plot.append("path").datum(toPoints(st.obs))
      .attr("d", line)
      .attr("fill", "none")
      .attr("stroke", "#ff0000")
      .attr("stroke-width", 13)
      .attr("stroke-linecap", "round")
      .attr("stroke-dasharray", `0 ${obsDotGap[i]}`);
  }
  plot.append("path").datum(toPoints(st.m))
    .attr("d", line)
    .attr("fill", "none")
    .attr("stroke", "#008000")
    .attr("stroke-width", 4)
    .attr("stroke-linejoin", "round");
  plot.append("path").datum(toPoints(st.n))
    .attr("d", line)
    .attr("fill", "none")
    .attr("stroke", "#0000ff")
    .attr("stroke-width", 4)
    .attr("stroke-dasharray", "14.8 6.4");

  // axes
  g.append("g")
    .call(d3.axisLeft(y).tickValues(yTicks).tickSize(12).tickPadding(14))
    .call(a => a.select(".domain").remove())
    .attr("font-family", FONT).attr("font-size", 32)
    .call(a => a.selectAll("line").attr("stroke-width", 2.7));
  g.append("g")
    .attr("transform", `translate(0,${PH})`)
    .call(d3.axisBottom(x).tickValues(xTicks).tickFormat((d, k) => xTickLabels[k]).tickSize(12).tickPadding(16))
    .call(a => a.select(".domain").remove())
    .attr("font-family", FONT).attr("font-size", 32)
    .call(a => a.selectAll("line").attr("stroke-width", 2.7));

  // frame
  g.append("rect").attr("width", PW).attr("height", PH)
    .attr("fill", "none").attr("stroke", "black").attr("stroke-width", 2.7);

  // texts
  g.append("text")
    .attr("x", PW / 2).attr("y", -20)
    .attr("text-anchor", "middle")
    .attr("font-family", FONT).attr("font-size", 38.5)
    .text(st.title);
  g.append("text")
    .attr("x", 91).attr("y", 60)
    .attr("font-family", FONT).attr("font-size", 30.5).attr("font-weight", "bold")
    .text(`depth=${st.depth} m below NAVD, tz=GMT`);
  g.append("text")
    .attr("transform", `translate(-93,${PH / 2}) rotate(-90)`)
    .attr("text-anchor", "middle")
    .attr("font-family", FONT).attr("font-size", 33)
    .text("Salinity (PSU)");

  if (i === 0) {
    const lg = g.append("g").attr("transform", `translate(${PW - 314},16)`);
    lg.append("rect").attr("width", 289).attr("height", 135).attr("rx", 8)
      .attr("fill", "white").attr("fill-opacity", 0.8)
      .attr("stroke", "#cccccc").attr("stroke-width", 2.7);
    const rowsY = [23, 64, 107];
    lg.append("circle").attr("cx", 40).attr("cy", rowsY[0]).attr("r", 6.5).attr("fill", "#ff0000");
    lg.append("line").attr("x1", 9).attr("x2", 68).attr("y1", rowsY[1]).attr("y2", rowsY[1])
      .attr("stroke", "#008000").attr("stroke-width", 4);
    lg.append("line").attr("x1", 9).attr("x2", 68).attr("y1", rowsY[2]).attr("y2", rowsY[2])
      .attr("stroke", "#0000ff").attr("stroke-width", 4).attr("stroke-dasharray", "14.8 6.4");
    lg.selectAll("text.lab").data(legendLabels).join("text")
      .attr("class", "lab")
      .attr("x", 90).attr("y", (d, k) => rowsY[k]).attr("dy", "0.36em")
      .attr("font-family", FONT).attr("font-size", 27)
      .text(d => d);
  }
});
</script>
</body>
</html>
